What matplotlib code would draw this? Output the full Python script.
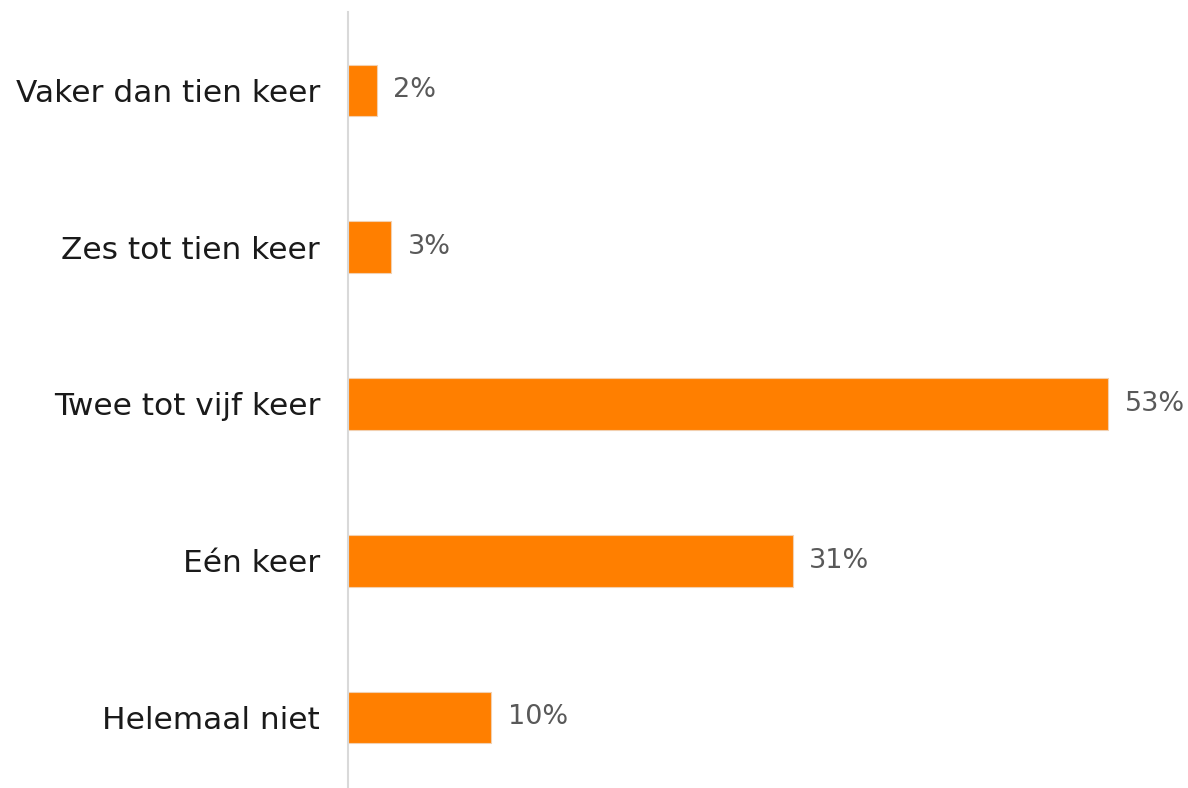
import matplotlib.pyplot as plt

categories = ["Helemaal niet", "Eén keer", "Twee tot vijf keer",
              "Zes tot tien keer", "Vaker dan tien keer"]
values = [10, 31, 53, 3, 2]

plt.rcParams['font.family'] = ['DejaVu Sans']

fig = plt.figure(figsize=(11.88, 7.88), dpi=100)
ax = fig.add_axes([348 / 1188, 0, 832 / 1188, 776 / 788])

y = range(len(categories))
ax.barh(y, values, height=0.33, color="#FF7F00", edgecolor="#F2D0B0", linewidth=0.8)

for i, v in enumerate(values):
    ax.text(v + 1.15, i, f"{v}%", va="center", ha="left", fontsize=19.5, color="#595959")

ax.set_xlim(0, 58)
ax.set_ylim(-0.45, 4.5)
ax.set_yticks(list(y))
ax.set_yticklabels(categories, fontsize=22.5, color="#1a1a1a")
ax.tick_params(axis="y", length=0, pad=20)
ax.set_xticks([])

for s in ["top", "right", "bottom"]:
    ax.spines[s].set_visible(False)
ax.spines["left"].set_color("#D9D9D9")
ax.spines["left"].set_linewidth(1.5)

fig.savefig("out.png", dpi=100)
